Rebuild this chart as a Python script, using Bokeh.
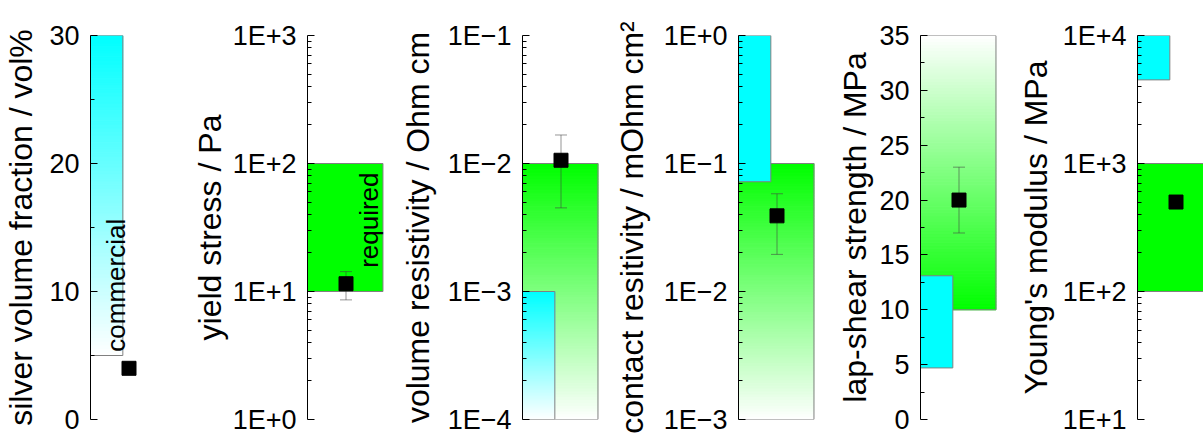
import numpy as np
from bokeh.plotting import figure
from bokeh.layouts import row
from bokeh.models import FixedTicker, Range1d, Label
from bokeh.embed import file_html
from bokeh.resources import INLINE

# ---------------- data ----------------
axis_titles = [
    "silver volume fraction / vol%",
    "yield stress / Pa",
    "volume resistivity / Ohm cm",
    "contact resitivity / mOhm cm\u00b2",
    "lap-shear strength / MPa",
    "Young's modulus / MPa",
]
y_min = [0, 1, 1e-4, 1e-3, 0, 10]
y_max = [30, 1e3, 1e-1, 1.0, 35, 1e4]
log_axis = [False, True, True, True, False, True]

tick_values = [
    [0, 10, 20, 30],
    [1, 10, 100, 1000],
    [1e-4, 1e-3, 1e-2, 1e-1],
    [1e-3, 1e-2, 1e-1, 1.0],
    [0, 5, 10, 15, 20, 25, 30, 35],
    [10, 100, 1000, 10000],
]
tick_labels = [
    ["0", "10", "20", "30"],
    ["1E+0", "1E+1", "1E+2", "1E+3"],
    ["1E\u22124", "1E\u22123", "1E\u22122", "1E\u22121"],
    ["1E\u22123", "1E\u22122", "1E\u22121", "1E+0"],
    ["0", "5", "10", "15", "20", "25", "30", "35"],
    ["1E+1", "1E+2", "1E+3", "1E+4"],
]

# commercial range (cyan) and required range (green)
commercial_lo = [5, None, 1e-4, 0.072, 4.7, 4500]
commercial_hi = [30, None, 1e-3, 1.0, 13.1, 1e4]
commercial_fade = ["bottom", None, "bottom", None, None, None]
required_lo = [None, 10, 1e-4, 1e-3, 10, 100]
required_hi = [None, 100, 1e-2, 0.1, 35, 1000]
required_fade = [None, None, "bottom", "bottom", "top", None]

# measured value with error bars
measured = [4, 11.5, 0.0106, 0.039, 20, 500]
err_lo = [None, 8.6, 0.0045, 0.0195, 17, None]
err_hi = [None, 14.3, 0.0167, 0.058, 23, None]

# in-bar notes
note_panel = [0, 1]
note_text = ["commercial", "required"]

# ---------------- style ----------------
FONT = "Liberation Sans"
CYAN = (0, 255, 255)
GREEN = (0, 255, 0)
axis_px = [90, 307, 522, 738, 920, 1137]
frame_w = 77
right_edge = 1203
label_standoff = [7, 2, 9, 11, 3, 6]
H = 438
TOP, FRAME_H = 35, 384
BOTTOM = H - TOP - FRAME_H


def hexcol(c):
    return "#%02x%02x%02x" % tuple(int(round(v)) for v in c)


def minor_list(i):
    lo, hi = y_min[i], y_max[i]
    if log_axis[i]:
        out = []
        k0, k1 = int(round(np.log10(lo))), int(round(np.log10(hi)))
        for k in range(k0, k1):
            for m in range(2, 10):
                out.append(m * 10.0 ** k)
        return out
    step = tick_values[i][1] - tick_values[i][0]
    return [t + step / 2 for t in tick_values[i][:-1]]


def draw_bar(p, i, x1, lo, hi, rgb, fade):
    if fade is None:
        p.quad(left=[0], right=[x1], bottom=[lo], top=[hi],
               fill_color=hexcol(rgb), line_color="#808080", line_width=1)
        return
    n = 90
    edges = np.geomspace(lo, hi, n + 1) if log_axis[i] else np.linspace(lo, hi, n + 1)
    t = (np.arange(n) + 0.5) / n
    f = t if fade == "bottom" else 1 - t
    cols = [hexcol(tuple(255 * (1 - a) + c * a for c in rgb)) for a in f]
    p.quad(left=0, right=x1, bottom=edges[:-1], top=edges[1:],
           fill_color=cols, line_color=cols, line_width=1)
    p.quad(left=[0], right=[x1], bottom=[lo], top=[hi],
           fill_alpha=0, line_color="#808080", line_width=1)


figs = []
for i in range(6):
    if i == 0:
        left = axis_px[0]
    else:
        left = axis_px[i] - (axis_px[i - 1] + frame_w)
    fw = frame_w if i < 5 else right_edge - axis_px[5]
    width = left + fw
    p = figure(width=width, height=H,
               x_range=Range1d(0, fw / frame_w),
               y_range=Range1d(y_min[i], y_max[i]),
               y_axis_type="log" if log_axis[i] else "linear",
               x_axis_location=None, toolbar_location=None,
               output_backend="svg",
               min_border_left=left, min_border_right=0,
               min_border_top=TOP, min_border_bottom=BOTTOM)
    p.outline_line_color = None
    p.grid.visible = False
    p.background_fill_color = "white"
    p.border_fill_color = "white"

    ax = p.yaxis[0]
    ax.ticker = FixedTicker(ticks=tick_values[i], minor_ticks=minor_list(i))
    ax.major_label_overrides = {float(t): l for t, l in zip(tick_values[i], tick_labels[i])}
    ax.axis_label = axis_titles[i]
    ax.axis_label_text_font = FONT
    ax.axis_label_text_font_size = "32px"
    ax.axis_label_text_font_style = "normal"
    ax.axis_label_text_color = "black"
    ax.axis_label_standoff = label_standoff[i]
    ax.major_label_text_font = FONT
    ax.major_label_text_font_size = "27px"
    ax.major_label_text_color = "black"
    ax.major_label_standoff = 11
    ax.major_tick_in = 7
    ax.major_tick_out = 0
    ax.minor_tick_in = 4
    ax.minor_tick_out = 0
    ax.axis_line_color = "black"
    ax.major_tick_line_color = "black"
    ax.minor_tick_line_color = "black"

    if required_lo[i] is not None:
        draw_bar(p, i, 0.98, required_lo[i], required_hi[i], GREEN, required_fade[i])
    if commercial_lo[i] is not None:
        draw_bar(p, i, 0.42, commercial_lo[i], commercial_hi[i], CYAN, commercial_fade[i])

    if i in note_panel:
        k = note_panel.index(i)
        if i == 0:
            nx, ny = 0.33, commercial_lo[i] * 1.06
        else:
            nx, ny = 0.80, required_lo[i] * 1.53
        p.add_layout(Label(x=nx, y=ny, text=note_text[k], angle=np.pi / 2,
                           text_font=FONT, text_font_size="26px",
                           text_align="left", text_baseline="alphabetic",
                           text_color="black"))

    if err_lo[i] is not None:
        p.segment(x0=[0.5], x1=[0.5], y0=[err_lo[i]], y1=[err_hi[i]],
                  line_color="#404040", line_alpha=0.55, line_width=1)
        p.scatter(x=[0.5, 0.5], y=[err_lo[i], err_hi[i]], marker="dash", size=12,
                  line_color="#404040", line_alpha=0.55, line_width=1)
    p.scatter(x=[0.5], y=[measured[i]], marker="square", size=14,
              fill_color="black", line_color="black")
    figs.append(p)

layout = row(*figs, spacing=0)
open("out.html", "w").write(file_html(layout, INLINE))
